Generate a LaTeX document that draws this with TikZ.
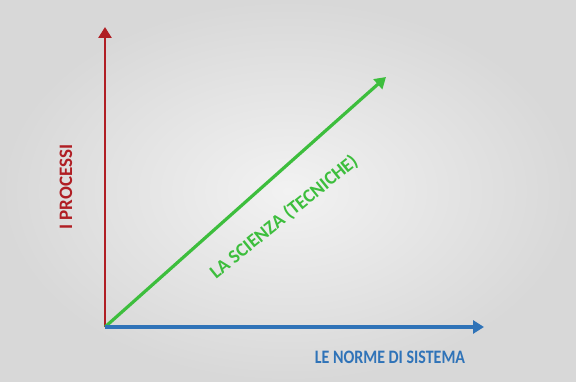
\documentclass[tikz,border=0pt]{standalone}
\usepackage{fontspec}
\setmainfont{Carlito}
\usetikzlibrary{arrows.meta}
\definecolor{axred}{HTML}{B01E24}
\definecolor{axblue}{HTML}{2F73B8}
\definecolor{axgreen}{HTML}{3DBE3D}
\definecolor{bgin}{HTML}{F2F2F2}
\definecolor{bgout}{HTML}{D8D8D8}
\tikzset{
  axis/.style={line width=3.2pt, -{Triangle[length=11pt,width=13pt]}},
  lbl/.style={font=\bfseries\fontsize{19}{19}\selectfont, inner sep=0pt}
}
\begin{document}
\begin{tikzpicture}[x=1pt,y=-1pt]
\useasboundingbox (0,0) rectangle (576,382);
\shade[inner color=bgin, outer color=bgout] (0,0) rectangle (576,382);
\coordinate (o) at (105,327);
\coordinate (ytip) at (105,27);
\coordinate (xtip) at (484,327);
\coordinate (dtip) at (386,77);
\draw[axis, axred, line width=2.6pt] (o) -- (ytip);
\draw[axis, axgreen] (o) -- (dtip);
\draw[axis, axblue] (o) -- (xtip);
\node[lbl, text=axred, rotate=90] (yl) at (66,187) {I PROCESSI};
\node[lbl, text=axblue] (xl) at (390,357) {\scalebox{0.84}[1]{LE NORME DI SISTEMA}};
\node[lbl, text=axgreen, rotate=39] (dl) at (284,217) {LA SCIENZA (TECNICHE)};
\end{tikzpicture}
\end{document}
